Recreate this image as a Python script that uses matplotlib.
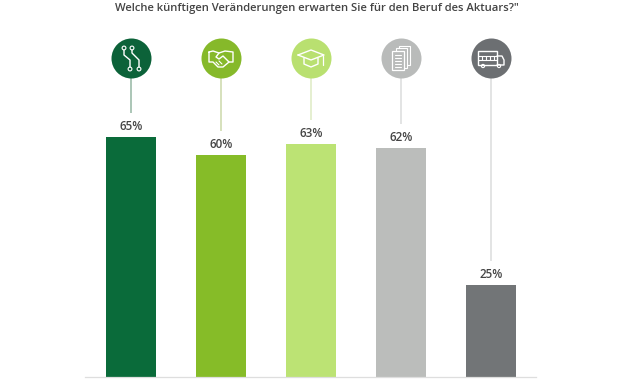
import matplotlib
matplotlib.use("Agg")
import matplotlib.pyplot as plt
from matplotlib.transforms import Affine2D, ScaledTranslation
from matplotlib.patches import Rectangle, Circle

title = "Welche künftigen Veränderungen erwarten Sie für den Beruf des Aktuars?\""
categories = ["Digitalisierung", "Zusammenarbeit", "Ausbildung", "Dokumentation", "Logistik"]
values = [65, 60, 63, 62, 25]
bar_colors = ["#0a6b3a", "#86bc28", "#bce374", "#bbbdbb", "#727577"]
circle_colors = ["#0c6239", "#86b92a", "#b9e070", "#b9bbba", "#6c6f72"]
stem_colors = ["#9dbcaa", "#cfdcb0", "#e0ecc8", "#dedfdf", "#dedfdf"]

W, H = 621, 383
fig = plt.figure(figsize=(W / 100, H / 100), dpi=100)
fig.patch.set_facecolor("white")
L, R, B = 85, 536, 377
ax = fig.add_axes([L / W, (H - B) / H, (R - L) / W, B / H])
px_per_unit = 3.7
ax.set_xlim((L - 131) / 90, (R - 131) / 90)
ax.set_ylim(0, B / px_per_unit)
ax.patch.set_alpha(0)
for s in ["top", "left", "right"]:
    ax.spines[s].set_visible(False)
ax.spines["bottom"].set_color("#dedede")
ax.spines["bottom"].set_linewidth(0.9)
ax.set_xticks([])
ax.set_yticks([])

xs = list(range(len(values)))
ax.bar(xs, values, width=50 / 90, color=bar_colors, linewidth=0, zorder=2)

text_color = "#444444"
font = ["Open Sans", "DejaVu Sans"]
circle_level = (B - 58) / px_per_unit
gap = 24 / px_per_unit
for x, v, cc, sc in zip(xs, values, circle_colors, stem_colors):
    ax.plot([x, x], [v + gap, circle_level], color=sc, lw=1.2, zorder=1, solid_capstyle="butt")
    ax.scatter([x], [circle_level], s=(40 * 0.72) ** 2, color=cc, linewidth=0, zorder=3)
    ax.annotate(f"{v}%", (x, v), xytext=(0, 2.8), textcoords="offset points", ha="center", va="bottom",
                fontsize=8.4, fontweight="semibold", family=font, color=text_color)

fig.text(317 / W, 1 - 8.5 / H, title, ha="center", va="center", fontsize=8.1, fontweight="semibold",
         family=font, color=text_color)


def icon_transform(x):
    return Affine2D().scale(1, -1) + ScaledTranslation(x, circle_level, ax.transData)


def stroke(x, pts, color="white", lw=0.9):
    t = icon_transform(x)
    ax.plot([p[0] for p in pts], [p[1] for p in pts], color=color, lw=lw, transform=t, zorder=4,
            solid_capstyle="round", solid_joinstyle="round")


def ring(x, cx, cy, r=1.9, lw=0.8):
    ax.add_patch(Circle((cx, cy), r, fill=False, edgecolor="white", lw=lw, transform=icon_transform(x), zorder=4))


def box(x, x0, y0, w, h, lw=0.8, fc="none"):
    ax.add_patch(Rectangle((x0, y0), w, h, facecolor=fc, edgecolor="white", lw=lw,
                           transform=icon_transform(x), zorder=4))


# circuit icon
stroke(0, [(-7, -8), (-7, -3), (-1, 2), (-1, 9)], lw=1.0)
stroke(0, [(1, -8), (1, -5), (8, 2), (8, 9)], lw=1.0)
for c in [(-7, -10), (1, -10), (-1, 11), (8, 11)]:
    ring(0, *c)

# handshake icon
stroke(1, [(-12, -6), (-8, -7), (-2, -5), (4, -7), (12, -6), (12, 4), (8, 4), (2, 9), (-3, 9), (-8, 4), (-12, 4), (-12, -6)], lw=1.0)
stroke(1, [(-2, -5), (-5, -1), (-2, 1), (2, -2), (8, 4)], lw=1.0)
stroke(1, [(-5, 4), (-2, 7)], lw=0.8)
stroke(1, [(-2, 3), (1, 6)], lw=0.8)

# graduation cap icon
stroke(2, [(-13, -3), (0, -8), (13, -3), (0, 2), (-13, -3)], lw=1.0)
stroke(2, [(-7, 0), (-7, 6), (0, 9), (7, 6), (7, 0)], lw=1.0)
stroke(2, [(12, -2), (12, 7)], lw=0.9)

# document stack icon
box(3, -2, -12, 11, 19, lw=0.8)
box(3, -5, -10, 11, 20, lw=0.8, fc=circle_colors[3])
box(3, -9, -7, 12, 19, lw=0.9, fc=circle_colors[3])
for yy in [-3, 0, 3, 6, 9]:
    stroke(3, [(-6, yy), (0, yy)], lw=0.8)

# truck icon
box(4, -13, -7, 19, 14, lw=1.0)
stroke(4, [(6, -2), (11, -2), (13, 2), (13, 7), (6, 7)], lw=1.0)
stroke(4, [(-13, -2), (6, -2)], lw=0.8)
stroke(4, [(-13, 2), (6, 2)], lw=0.8)
for xx in [-9, -5, -1, 3]:
    stroke(4, [(xx, -2), (xx, 2)], lw=0.8)
ring(4, -8, 8, r=1.6)
ring(4, 8, 8, r=1.6)

fig.savefig("out.png", dpi=100)
